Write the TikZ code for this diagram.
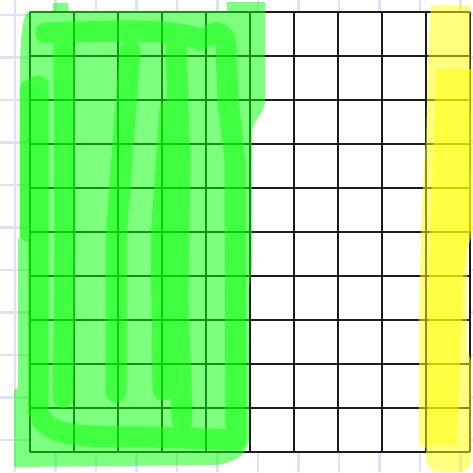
\documentclass[tikz,border=0pt]{standalone}
\usepackage{xcolor}
\usepackage{tikz}
\definecolor{paperline}{RGB}{222,224,246}
\definecolor{gridink}{RGB}{28,28,28}
\definecolor{hlgreen}{RGB}{10,255,10}
\definecolor{hlyellow}{RGB}{255,255,10}
\tikzset{
  paper/.style={draw=paperline,line width=2.5pt},
  gridline/.style={draw=gridink,line width=2pt},
  greenpass/.style={fill=hlgreen,fill opacity=0.52},
  yellowpass/.style={fill=hlyellow,fill opacity=0.52},
  greenstroke/.style={draw=hlgreen,draw opacity=0.52,line width=21pt,
    line cap=round,line join=round}
}

\begin{document}
\begin{tikzpicture}[x=1pt,y=-1pt]
\useasboundingbox (0,0) rectangle (473,472);
\fill[white] (0,0) rectangle (473,472);

% graph paper underneath
\foreach \k in {0,...,11}
  \draw[paper] ({15+40.5*\k},0) -- ({15+40.5*\k},472);
\foreach \k in {0,...,10}
  \draw[paper] (0,{15+42.5*\k}) -- (473,{15+42.5*\k});

% the 10 x 10 grid
\fill[white] (30,12) rectangle (470,452);
\foreach \i in {0,...,10} {
  \draw[gridline] ({30+44*\i},12) -- ({30+44*\i},452);
  \draw[gridline] (30,{12+44*\i}) -- (470,{12+44*\i});
}

% green highlighter, first pass
\fill[greenpass] (30,11) -- (53,11) -- (53,3) -- (68,3) -- (68,11)
  -- (227,11) -- (227,2) -- (265,2) -- (265,100)
  .. controls (265,115) and (252,118) .. (252,135) -- (252,260)
  .. controls (252,275) and (249,280) .. (249,295) -- (249,440)
  .. controls (249,455) and (230,465) .. (212,465) -- (14,467)
  -- (14,390) -- (18,388) -- (18,240) -- (20,236) -- (20,80)
  .. controls (20,40) and (22,11) .. (30,11) -- cycle;

% green highlighter, second pass (the scribble)
\draw[greenstroke]
  (46,33) .. controls (110,31) and (180,28) .. (200,40)
  (38,86) -- (38,410)
  (30,90) -- (30,232)
  (64,48) -- (65,240) -- (63,398)
  (130,50) -- (116,240) -- (116,392)
  (176,48) -- (180,160) -- (178,300) -- (182,420)
  (170,110) -- (161,240) -- (163,390)
  (208,36) .. controls (216,30) and (224,32) .. (226,44)
  -- (228,100) -- (235,160) -- (236,440)
  (42,420) .. controls (58,440) and (100,436) .. (150,437)
  -- (234,440);

% yellow highlighter on the last column
\fill[yellowpass] (431,5) -- (470,5) -- (471,230) -- (467,240)
  -- (467,350) -- (471,360) -- (471,458)
  .. controls (471,468) and (466,472) .. (456,472) -- (440,472)
  .. controls (430,472) and (426,466) .. (426,455) -- (426,448)
  -- (419,445) -- (419,320) .. controls (420,240) and (424,160) .. (426,140)
  .. controls (427,90) and (429,30) .. (431,5) -- cycle;
\fill[yellowpass] (437,69) -- (473,69) -- (473,232)
  .. controls (466,250) and (462,270) .. (462,300) -- (457,445)
  -- (427,445) -- (428,300) -- (433,150) -- (436,80) -- cycle;
\end{tikzpicture}
\end{document}
